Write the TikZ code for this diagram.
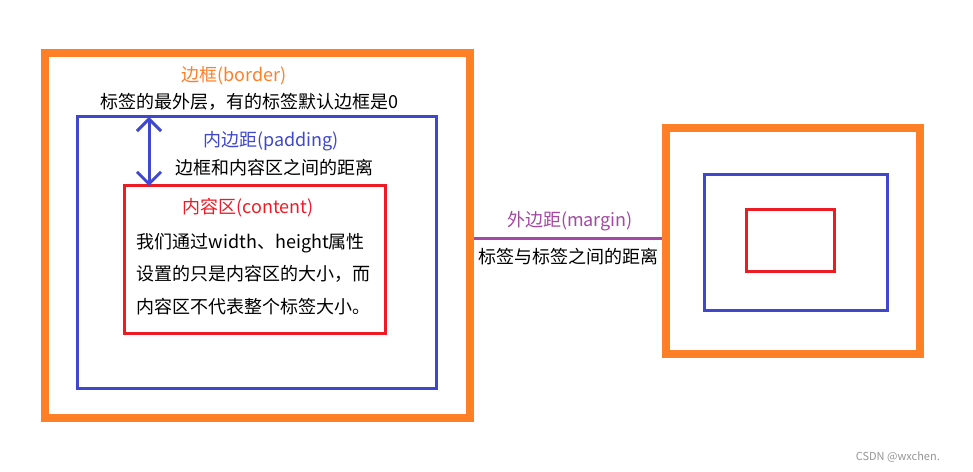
\documentclass[tikz,border=0pt]{standalone}
\usepackage{fontspec}
\setmainfont{Noto Sans CJK SC}
\usetikzlibrary{arrows.meta}
\definecolor{cOrange}{RGB}{255,127,39}
\definecolor{cBlue}{RGB}{63,72,204}
\definecolor{cRed}{RGB}{237,28,36}
\definecolor{cPurple}{RGB}{163,73,164}
\definecolor{cGray}{RGB}{150,150,150}
\begin{document}
\begin{tikzpicture}[x=1bp,y=-1bp,
  boxo/.style={draw=cOrange,line width=8bp,inner sep=0pt,minimum width=#1},
  boxb/.style={draw=cBlue,line width=3bp,inner sep=0pt},
  boxr/.style={draw=cRed,line width=3bp,inner sep=0pt},
  lbl/.style={inner sep=0pt,font=\fontsize{18bp}{22bp}\selectfont},
  marginline/.style={draw=cPurple,line width=3bp},
  padarrow/.style={draw=cBlue,line width=3bp,{Straight Barb[length=12bp,width=24bp]}-{Straight Barb[length=12bp,width=24bp]}}
]
\useasboundingbox[fill=white] (0,0) rectangle (973,472);
% left box set
\node[draw=cOrange,line width=8bp,inner sep=0pt,minimum width=425bp,minimum height=365bp] (oL) at (257.5,235.5) {};
\node[boxb,minimum width=358bp,minimum height=271bp] (bL) at (257,252.5) {};
\node[boxr,minimum width=260bp,minimum height=148bp] (rL) at (255,260) {};
% right box set
\node[draw=cOrange,line width=8bp,inner sep=0pt,minimum width=254bp,minimum height=226bp] (oR) at (793,241) {};
\node[boxb,minimum width=183bp,minimum height=136bp] (bR) at (795.5,242.5) {};
\node[boxr,minimum width=88bp,minimum height=62bp] (rR) at (790.5,240.5) {};
% padding arrow
\coordinate (pa) at (149,117);
\coordinate (pb) at (149,186);
\draw[padarrow] (pa) -- (pb);
% margin line
\coordinate (my) at (0,238.3);
\draw[marginline] (oL.east |- my) -- (oR.west |- my);
% texts
\node[lbl,text=cOrange] (t1) at (234,75.7) {边框(border)};
\node[lbl] (t2) at (249,101.7) {标签的最外层，有的标签默认边框是0};
\node[lbl,text=cBlue] (t3) at (271,140.7) {内边距(padding)};
\node[lbl] (t4) at (274,167.7) {边框和内容区之间的距离};
\node[lbl,text=cRed] (t5) at (248,207.7) {内容区(content)};
\node[lbl,anchor=west,align=left,font=\fontsize{18bp}{32.5bp}\selectfont] (t6) at (136.7,274) {我们通过width、height属性\\设置的只是内容区的大小，而\\内容区不代表整个标签大小。};
\node[lbl,text=cPurple] (t7) at (570,221) {外边距(margin)};
\node[lbl] (t8) at (568,256.7) {标签与标签之间的距离};
\node[inner sep=0pt,anchor=east,text=cGray,font=\fontsize{11bp}{13bp}\selectfont] (wm) at (940,457) {CSDN @wxchen.};
\end{tikzpicture}
\end{document}
